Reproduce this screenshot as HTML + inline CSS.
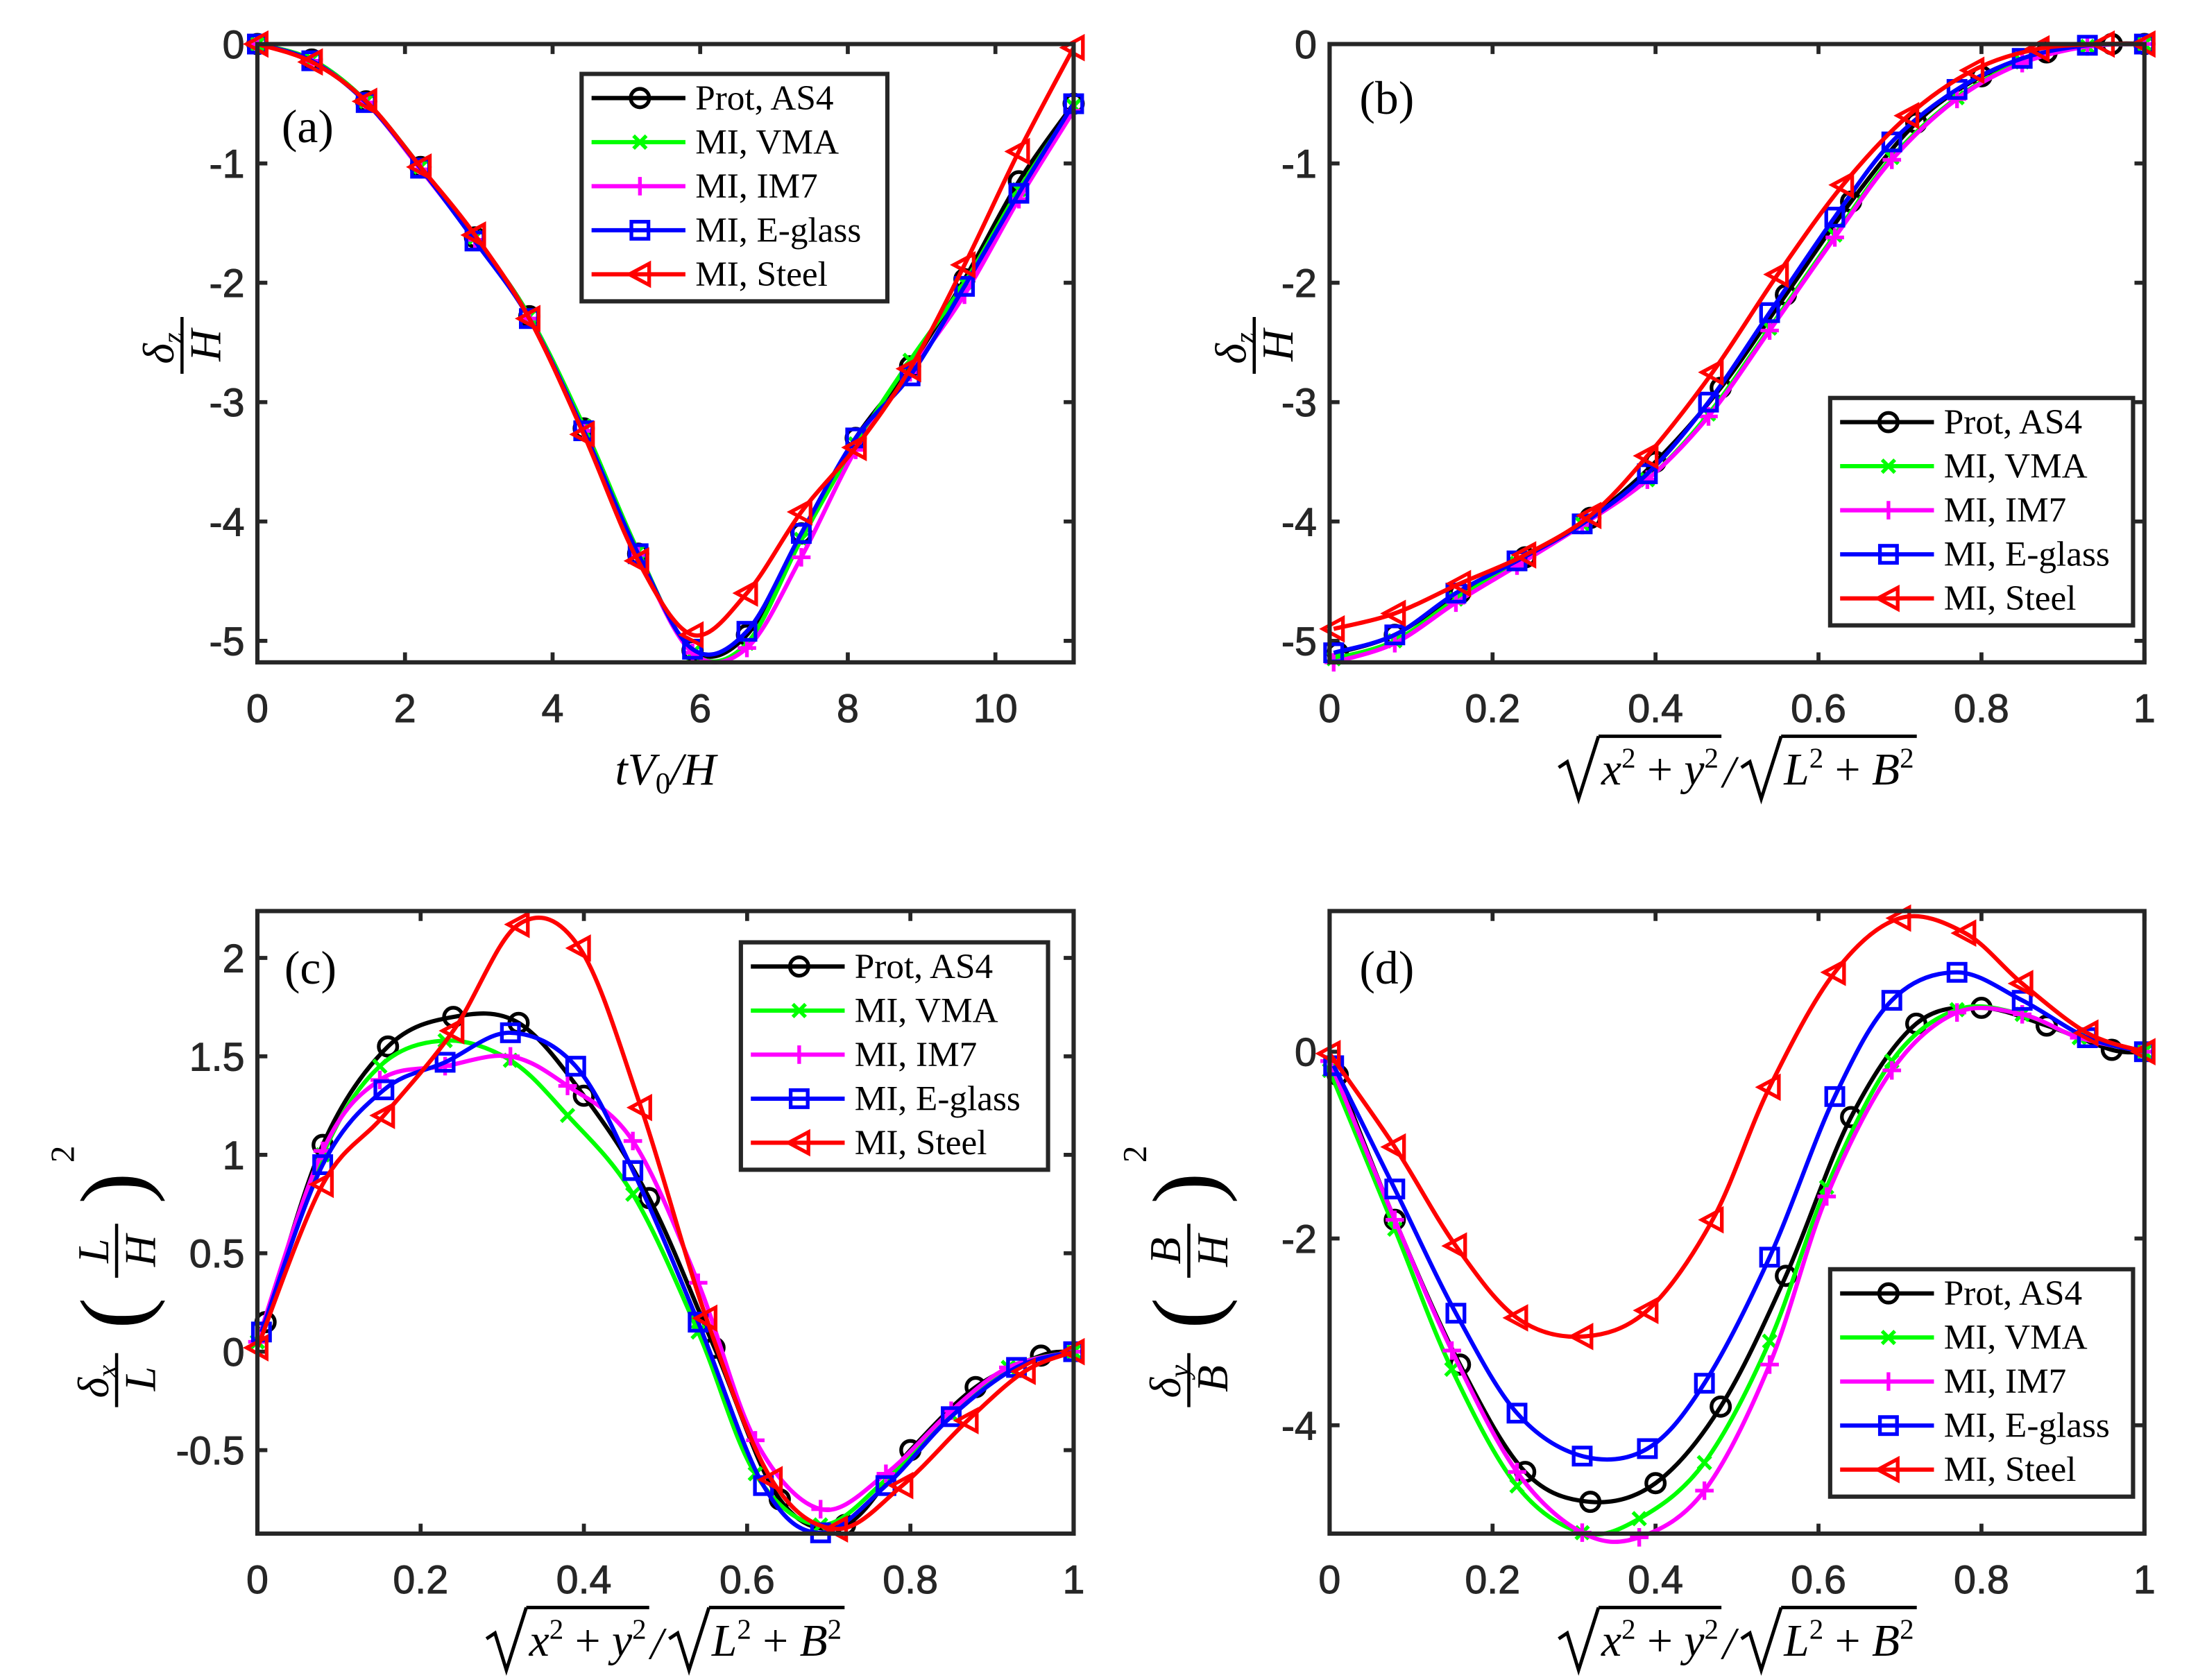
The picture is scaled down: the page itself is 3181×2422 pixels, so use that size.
<!DOCTYPE html>
<html><head><meta charset="utf-8"><style>
html,body{margin:0;padding:0;background:#fff;}
svg{display:block;}
.tk{font-family:"Liberation Sans",Arial,sans-serif;font-size:28px;fill:#262626;stroke:#262626;stroke-width:0.5px;}
.lg{font-family:"Liberation Serif",serif;font-size:25px;fill:#000;}
.ser{font-family:"Liberation Serif",serif;fill:#000;}
</style></head><body>
<svg id="fig" width="3181" height="2422" viewBox="0 0 1552 1182" preserveAspectRatio="none" xmlns="http://www.w3.org/2000/svg">
<rect width="1552" height="1182" fill="#fff"/>
<g id="layer"></g>
</svg>
<script>
// ---------- data ----------
const seriesNames = ["Prot, AS4","MI, VMA","MI, IM7","MI, E-glass","MI, Steel"];
const seriesColors = ["#000000","#00ff00","#ff00ff","#0000ff","#ff0000"];
const seriesMarkers = ["circle","x","plus","square","tri"];

// panel (a)
const aX = [0,0.737,1.474,2.211,2.948,3.685,4.422,5.159,5.896,6.633,7.37,8.107,8.844,9.581,10.318,11.06];
const aBlack = [0,-0.13,-0.48,-1.03,-1.62,-2.28,-3.22,-4.27,-5.08,-4.95,-4.1,-3.3,-2.7,-1.97,-1.15,-0.5];
const aGreen = [0,-0.13,-0.48,-1.03,-1.62,-2.28,-3.2,-4.25,-5.1,-5.02,-4.15,-3.35,-2.65,-2.0,-1.22,-0.52];
const aMagenta = [0,-0.14,-0.49,-1.05,-1.64,-2.3,-3.24,-4.28,-5.1,-5.06,-4.3,-3.4,-2.75,-2.1,-1.3,-0.56];
const aBlue = [0,-0.14,-0.49,-1.04,-1.65,-2.3,-3.24,-4.27,-5.07,-4.92,-4.1,-3.3,-2.78,-2.03,-1.25,-0.5];
const aRed = [0,-0.15,-0.48,-1.03,-1.6,-2.3,-3.27,-4.33,-4.95,-4.6,-3.92,-3.38,-2.72,-1.85,-0.9,-0.03];

// panel (b)
const bXBlack = [0.01,0.08,0.16,0.24,0.32,0.40,0.48,0.56,0.64,0.72,0.80,0.88,0.96,1];
const bXMI = [0.005,0.08,0.155,0.23,0.31,0.39,0.465,0.54,0.62,0.69,0.77,0.85,0.93,1];
const bXRed = [0.005,0.08,0.16,0.24,0.32,0.39,0.47,0.55,0.63,0.71,0.79,0.87,0.95,1];
const bBlack = [-5.1,-4.95,-4.6,-4.3,-3.97,-3.5,-2.88,-2.1,-1.32,-0.66,-0.27,-0.07,0,0];
const bGreen = [-5.15,-5.0,-4.65,-4.35,-4.02,-3.65,-3.1,-2.38,-1.6,-0.95,-0.45,-0.15,-0.02,0];
const bMagenta = [-5.18,-5.02,-4.68,-4.37,-4.03,-3.65,-3.12,-2.4,-1.62,-0.97,-0.46,-0.16,-0.02,0];
const bBlue = [-5.1,-4.95,-4.6,-4.33,-4.02,-3.6,-3.0,-2.25,-1.45,-0.82,-0.38,-0.12,-0.01,0];
const bRed = [-4.9,-4.77,-4.52,-4.28,-3.95,-3.45,-2.75,-1.93,-1.18,-0.6,-0.22,-0.04,0,0];

// panel (c)
const cXBlack = [0.01,0.08,0.16,0.24,0.32,0.40,0.48,0.56,0.64,0.72,0.80,0.88,0.96,1];
const cXMI = [0.0,0.08,0.15,0.23,0.31,0.38,0.46,0.54,0.61,0.69,0.77,0.85,0.92,1];
const cXBlue = [0.005,0.08,0.155,0.23,0.31,0.39,0.46,0.54,0.62,0.69,0.77,0.85,0.93,1];
const cXRed = [0.0,0.08,0.155,0.24,0.32,0.395,0.47,0.55,0.63,0.71,0.79,0.87,0.94,1];
const cBlack = [0.15,1.05,1.55,1.7,1.67,1.3,0.78,0.02,-0.75,-0.88,-0.5,-0.18,-0.02,0];
const cGreen = [0.05,1.0,1.45,1.58,1.48,1.2,0.8,0.1,-0.62,-0.88,-0.65,-0.32,-0.08,0];
const cMagenta = [0.05,1.02,1.38,1.45,1.5,1.35,1.07,0.35,-0.45,-0.8,-0.62,-0.3,-0.08,0];
const cBlue = [0.1,0.95,1.33,1.47,1.62,1.45,0.92,0.15,-0.68,-0.92,-0.68,-0.33,-0.08,0];
const cRed = [0.02,0.85,1.2,1.63,2.17,2.05,1.24,0.17,-0.65,-0.9,-0.68,-0.35,-0.1,0];

// panel (d)
const dXBlack = [0.01,0.08,0.16,0.24,0.32,0.40,0.48,0.56,0.64,0.72,0.80,0.88,0.96,1];
const dXMI = [0.0,0.08,0.15,0.23,0.31,0.38,0.46,0.54,0.61,0.69,0.77,0.85,0.92,1];
const dXBlue = [0.005,0.08,0.155,0.23,0.31,0.39,0.46,0.54,0.62,0.69,0.77,0.85,0.93,1];
const dXRed = [0.0,0.08,0.155,0.23,0.31,0.39,0.47,0.54,0.62,0.70,0.78,0.85,0.93,1];
const dBlack = [-0.25,-1.8,-3.35,-4.5,-4.82,-4.62,-3.8,-2.4,-0.7,0.3,0.47,0.28,0.02,0];
const dGreen = [-0.2,-1.9,-3.4,-4.65,-5.15,-5.0,-4.4,-3.1,-1.45,-0.1,0.45,0.4,0.15,0];
const dMagenta = [-0.1,-1.8,-3.2,-4.5,-5.15,-5.2,-4.7,-3.35,-1.55,-0.2,0.42,0.4,0.15,0];
const dBlue = [-0.15,-1.47,-2.8,-3.87,-4.33,-4.25,-3.55,-2.2,-0.48,0.55,0.85,0.55,0.15,0];
const dRed = [-0.02,-1.02,-2.08,-2.85,-3.05,-2.77,-1.8,-0.38,0.85,1.43,1.27,0.73,0.2,0];

const aTicksX = [0,2,4,6,8,10];
const aTicksY = [0,-1,-2,-3,-4,-5];
const fracTicksX = [0,0.2,0.4,0.6,0.8,1];
const fracTickLabels = ["0","0.2","0.4","0.6","0.8","1"];
const bTicksY = [0,-1,-2,-3,-4,-5];
const cTicksY = [-0.5,0,0.5,1,1.5,2];
const cTickLabels = ["-0.5","0","0.5","1","1.5","2"];
const dTicksY = [-4,-2,0];

// ---------- helpers ----------
const NS="http://www.w3.org/2000/svg";
const layer=document.getElementById('layer');
function mk(tag,attrs,parent){const e=document.createElementNS(NS,tag);for(const k in attrs)e.setAttribute(k,attrs[k]);(parent||layer).appendChild(e);return e;}
function crPath(pts){
  let d="M"+pts[0][0].toFixed(2)+","+pts[0][1].toFixed(2);
  for(let i=0;i<pts.length-1;i++){
    const p0=pts[Math.max(0,i-1)],p1=pts[i],p2=pts[i+1],p3=pts[Math.min(pts.length-1,i+2)];
    const c1=[p1[0]+(p2[0]-p0[0])/6,p1[1]+(p2[1]-p0[1])/6];
    const c2=[p2[0]-(p3[0]-p1[0])/6,p2[1]-(p3[1]-p1[1])/6];
    d+=" C"+c1[0].toFixed(2)+","+c1[1].toFixed(2)+" "+c2[0].toFixed(2)+","+c2[1].toFixed(2)+" "+p2[0].toFixed(2)+","+p2[1].toFixed(2);
  }
  return d;
}
function marker(type,x,y,color,parent){
  const sw=2.6;let e;
  if(type==="circle"){e=mk('circle',{cx:x,cy:y,r:6.5,fill:'none',stroke:color,'stroke-width':sw},parent);}
  else if(type==="square"){e=mk('rect',{x:x-6,y:y-6,width:12,height:12,fill:'none',stroke:color,'stroke-width':sw},parent);}
  else if(type==="tri"){e=mk('path',{d:`M${x-7.5},${y} L${x+6.5},${y-7.5} L${x+6.5},${y+7.5} Z`,fill:'none',stroke:color,'stroke-width':sw},parent);}
  else if(type==="x"){e=mk('path',{d:`M${x-4.5},${y-4.5}L${x+4.5},${y+4.5}M${x-4.5},${y+4.5}L${x+4.5},${y-4.5}`,stroke:color,'stroke-width':sw},parent);}
  else {e=mk('path',{d:`M${x-6.5},${y}L${x+6.5},${y}M${x},${y-6.5}L${x},${y+6.5}`,stroke:color,'stroke-width':sw},parent);}
  
  
}
function panel(cfg){
  const g=mk('g',{});
  
  
  const L=cfg.box[0],R=cfg.box[1],T=cfg.box[2],B=cfg.box[3];
  const sx=v=>L+(v-cfg.xr[0])/(cfg.xr[1]-cfg.xr[0])*(R-L);
  const sy=v=>T+(cfg.yr[1]-v)/(cfg.yr[1]-cfg.yr[0])*(B-T);
  cfg.xt.forEach((v,i)=>{const x=sx(v);
    mk('path',{d:`M${x},${B}V${B-7}M${x},${T}V${T+7}`,stroke:'#262626','stroke-width':2.8},g);
    const t=mk('text',{x:x,y:B+42,'text-anchor':'middle',class:'tk'},g);t.textContent=cfg.xl[i];
    
    
  });
  cfg.yt.forEach((v,i)=>{const y=sy(v);
    mk('path',{d:`M${L},${y}H${L+7}M${R},${y}H${R-7}`,stroke:'#262626','stroke-width':2.8},g);
    const t=mk('text',{x:L-9,y:y+10,'text-anchor':'end',class:'tk'},g);t.textContent=cfg.yl[i];
    
    
  });
  cfg.series.forEach((s,k)=>{
    const pts=s.y.map((v,i)=>[sx(s.x[i]),sy(v)]);
    const p=mk('path',{d:crPath(pts),fill:'none',stroke:seriesColors[k],'stroke-width':3},g);
    
    
    const mx=s.skipLast?pts.length-1:pts.length;
    for(let i=0;i<mx;i++)marker(seriesMarkers[k],pts[i][0],pts[i][1],seriesColors[k],g);
  });
  const ax=mk('rect',{x:L,y:T,width:R-L,height:B-T,fill:'none',stroke:'#262626','stroke-width':3},g);
  
  
  const lx=cfg.leg[0],ly=cfg.leg[1],lw=cfg.leg[2];
  const lg=mk('g',{},g);
  
  
  mk('rect',{x:lx,y:ly,width:lw,height:160,fill:'#fff',stroke:'#262626','stroke-width':3},lg);
  seriesNames.forEach((n,k)=>{const yy=ly+17+k*31;
    mk('line',{x1:lx+7,x2:lx+73,y1:yy,y2:yy,stroke:seriesColors[k],'stroke-width':3},lg);
    marker(seriesMarkers[k],lx+41,yy,seriesColors[k],lg);
    const t=mk('text',{x:lx+80,y:yy+8,class:'lg'},lg);t.textContent=n;
    
    
  });
  const pl=mk('text',{x:cfg.lab[0],y:cfg.lab[1],class:'ser','font-size':33},g);pl.textContent=cfg.labText;
  
  
}
const fmt=v=>String(v);
panel({name:'panel-a',box:[181,755,31,466],xr:[0,11.06],yr:[-5.18,0],xt:aTicksX,xl:aTicksX.map(fmt),yt:aTicksY,yl:aTicksY.map(fmt),
  series:[{x:aX,y:aBlack},{x:aX,y:aGreen},{x:aX,y:aMagenta},{x:aX,y:aBlue},{x:aX,y:aRed}],leg:[409,52,215],lab:[198,100],labText:'(a)'});
panel({name:'panel-b',box:[935,1508,31,466],xr:[0,1],yr:[-5.18,0],xt:fracTicksX,xl:fracTickLabels,yt:bTicksY,yl:bTicksY.map(fmt),
  series:[{x:bXBlack,y:bBlack},{x:bXMI,y:bGreen},{x:bXMI,y:bMagenta},{x:bXMI,y:bBlue},{x:bXRed,y:bRed}],leg:[1287,280,213],lab:[956,80],labText:'(b)'});
panel({name:'panel-c',box:[181,755,641,1079],xr:[0,1],yr:[-0.924,2.238],xt:fracTicksX,xl:fracTickLabels,yt:cTicksY,yl:cTickLabels,
  series:[{x:cXBlack,y:cBlack,skipLast:true},{x:cXMI,y:cGreen},{x:cXMI,y:cMagenta},{x:cXBlue,y:cBlue},{x:cXRed,y:cRed}],leg:[521,663,216],lab:[200,692],labText:'(c)'});
panel({name:'panel-d',box:[935,1508,641,1079],xr:[0,1],yr:[-5.16,1.506],xt:fracTicksX,xl:fracTickLabels,yt:dTicksY,yl:dTicksY.map(fmt),
  series:[{x:dXBlack,y:dBlack,skipLast:true},{x:dXMI,y:dGreen},{x:dXMI,y:dMagenta},{x:dXBlue,y:dBlue},{x:dXRed,y:dRed}],leg:[1287,893,213],lab:[956,692],labText:'(d)'});
</script>
<script>
(function(){
const NS="http://www.w3.org/2000/svg";const layer=document.getElementById('layer');
function mk(tag,attrs,parent){const e=document.createElementNS(NS,tag);for(const k in attrs)e.setAttribute(k,attrs[k]);(parent||layer).appendChild(e);return e;}
function txt(parent,x,y,s,size,italic,anchor){const t=mk('text',{x:x,y:y,class:'ser','font-size':size,'font-style':italic?'italic':'normal','text-anchor':anchor||'start'},parent);t.innerHTML=s;return t;}
let g=mk('g',{});


txt(g,468,552,'tV<tspan font-size="21" dy="6" font-style="normal">0</tspan><tspan dy="-6">/H</tspan>',32,true,'middle');
function sqrtLabel(cx,cy,name){
  const g=mk('g',{});
  
  
  let x=0;
  const rad=(x0)=>mk('path',{d:`M${x0},${cy-12} L${x0+6},${cy-16} L${x0+14},${cy+10} L${x0+28},${cy-34}`,fill:'none',stroke:'#000','stroke-width':2.4},g);
  rad(x);
  const t1=txt(g,x+30,cy,'x<tspan font-size="20" dy="-12" font-style="normal">2</tspan><tspan dy="12" font-style="normal"> + </tspan>y<tspan font-size="20" dy="-12" font-style="normal">2</tspan>',32,true);
  let w1=t1.getComputedTextLength?t1.getComputedTextLength():100; if(!w1)w1=100;
  mk('line',{x1:x+28,x2:x+32+w1,y1:cy-34,y2:cy-34,stroke:'#000','stroke-width':2.4},g);
  x=x+32+w1;
  txt(g,x+1,cy+2,'/',32,true);
  x+=14;
  rad(x);
  const t2=txt(g,x+30,cy,'L<tspan font-size="20" dy="-12" font-style="normal">2</tspan><tspan dy="12" font-style="normal"> + </tspan>B<tspan font-size="20" dy="-12" font-style="normal">2</tspan>',32,true);
  let w2=t2.getComputedTextLength?t2.getComputedTextLength():110; if(!w2)w2=110;
  mk('line',{x1:x+28,x2:x+32+w2,y1:cy-34,y2:cy-34,stroke:'#000','stroke-width':2.4},g);
  const total=x+32+w2;
  g.setAttribute('transform',`translate(${cx-total/2},0)`);
}
sqrtLabel(1222,552,'x-axis-title-b');
sqrtLabel(468,1165,'x-axis-title-c');
sqrtLabel(1222,1165,'x-axis-title-d');
function fracY(cx,cy,num,sub,den,name){
  const g=mk('g',{transform:`translate(${cx},${cy}) rotate(-90)`});
  
  
  txt(g,-2,-6,num+'<tspan font-size="20" dy="6">'+sub+'</tspan>',31,true,'middle');
  mk('line',{x1:-20,x2:20,y1:0,y2:0,stroke:'#000','stroke-width':2.2},g);
  txt(g,0,27,den,31,true,'middle');
}
fracY(128,243,'δ','z','H','y-axis-title-a');
fracY(882,243,'δ','z','H','y-axis-title-b');
function bigY(cx,cy,sub,D,name){
  const g=mk('g',{transform:`translate(${cx},${cy}) rotate(-90)`});
  
  
  txt(g,-112,-6,'δ<tspan font-size="20" dy="6">'+sub+'</tspan>',31,true,'middle');
  mk('line',{x1:-130,x2:-92,y1:0,y2:0,stroke:'#000','stroke-width':2.2},g);
  txt(g,-110,27,D,31,true,'middle');
  txt(g,-64,20,'(',66,false,'middle');
  txt(g,-20,-6,D,31,true,'middle');
  mk('line',{x1:-39,x2:-1,y1:0,y2:0,stroke:'#000','stroke-width':2.2},g);
  txt(g,-20,27,'H',31,true,'middle');
  txt(g,24,20,')',66,false,'middle');
  txt(g,48,-30,'2',24,false,'middle');
}
bigY(82,860,'x','L','y-axis-title-c');
bigY(836,860,'y','B','y-axis-title-d');
})();
</script>
</body></html>
